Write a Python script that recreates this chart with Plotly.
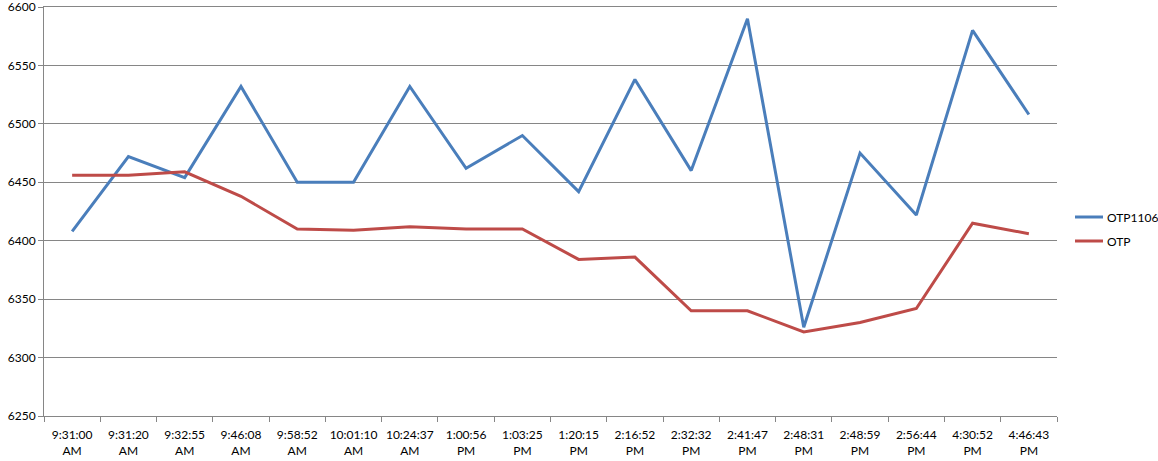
import plotly.graph_objects as go

times = ["9:31:00 AM", "9:31:20 AM", "9:32:55 AM", "9:46:08 AM", "9:58:52 AM", "10:01:10 AM",
         "10:24:37 AM", "1:00:56 PM", "1:03:25 PM", "1:20:15 PM", "2:16:52 PM", "2:32:32 PM",
         "2:41:47 PM", "2:48:31 PM", "2:48:59 PM", "2:56:44 PM", "4:30:52 PM", "4:46:43 PM"]
otp1106 = [6408, 6472, 6454, 6532, 6450, 6450, 6532, 6462, 6490, 6442, 6538, 6460,
           6590, 6326, 6475, 6422, 6580, 6508]
otp = [6456, 6456, 6459, 6438, 6410, 6409, 6412, 6410, 6410, 6384, 6386, 6340,
       6340, 6322, 6330, 6342, 6415, 6406]
y_ticks = [6250, 6300, 6350, 6400, 6450, 6500, 6550, 6600]
series_names = ["OTP1106", "OTP"]
series_colors = ["#4a7ebb", "#be4b48"]

labels = [t.replace(" ", "<br>") for t in times]

W, H = 1158, 461
ML, MR, MT, MB = 44, 101, 7, 45

fig = go.Figure()
for name, vals, col in zip(series_names, [otp1106, otp], series_colors):
    fig.add_trace(go.Scatter(x=labels, y=vals, mode="lines", name=name,
                             line=dict(color=col, width=3), showlegend=False))

# custom legend (Excel style: short line + label)
pw = W - ML - MR
ph = H - MT - MB
for i, (name, col) in enumerate(zip(series_names, series_colors)):
    ypx = 217 + 24 * i
    yp = (H - MB - ypx) / ph
    x0 = (1075 - ML) / pw
    x1 = (1103 - ML) / pw
    fig.add_shape(type="line", xref="paper", yref="paper", x0=x0, x1=x1, y0=yp, y1=yp,
                  line=dict(color=col, width=3))
    fig.add_annotation(xref="paper", yref="paper", x=(1105 - ML) / pw, y=yp, text=name,
                       showarrow=False, xanchor="left", yanchor="middle",
                       font=dict(size=12, color="#000000"))

fig.update_layout(
    width=W, height=H,
    margin=dict(l=ML, r=MR, t=MT, b=MB, autoexpand=False),
    paper_bgcolor="white", plot_bgcolor="white",
    font=dict(family="Lato, Open Sans, sans-serif", size=12, color="#000000"),
    showlegend=False,
)
fig.update_xaxes(type="category", showline=True, mirror=True, linecolor="#868686", linewidth=1,
                 ticks="outside", tickson="boundaries", ticklen=5, tickcolor="#868686",
                 showgrid=False, tickangle=0, range=[-0.5, len(times) - 0.5],
                 automargin=False, ticklabelstandoff=8)
fig.update_yaxes(range=[6250, 6600], tickvals=y_ticks, showline=True, linecolor="#868686",
                 linewidth=1, ticks="outside", ticklen=5, tickcolor="#868686",
                 showgrid=True, gridcolor="#868686", gridwidth=1, zeroline=False,
                 ticklabeloverflow="allow", automargin=False)

fig.write_html("out.html", config={"displayModeBar": False},
               post_script="document.body.style.margin='0';")
